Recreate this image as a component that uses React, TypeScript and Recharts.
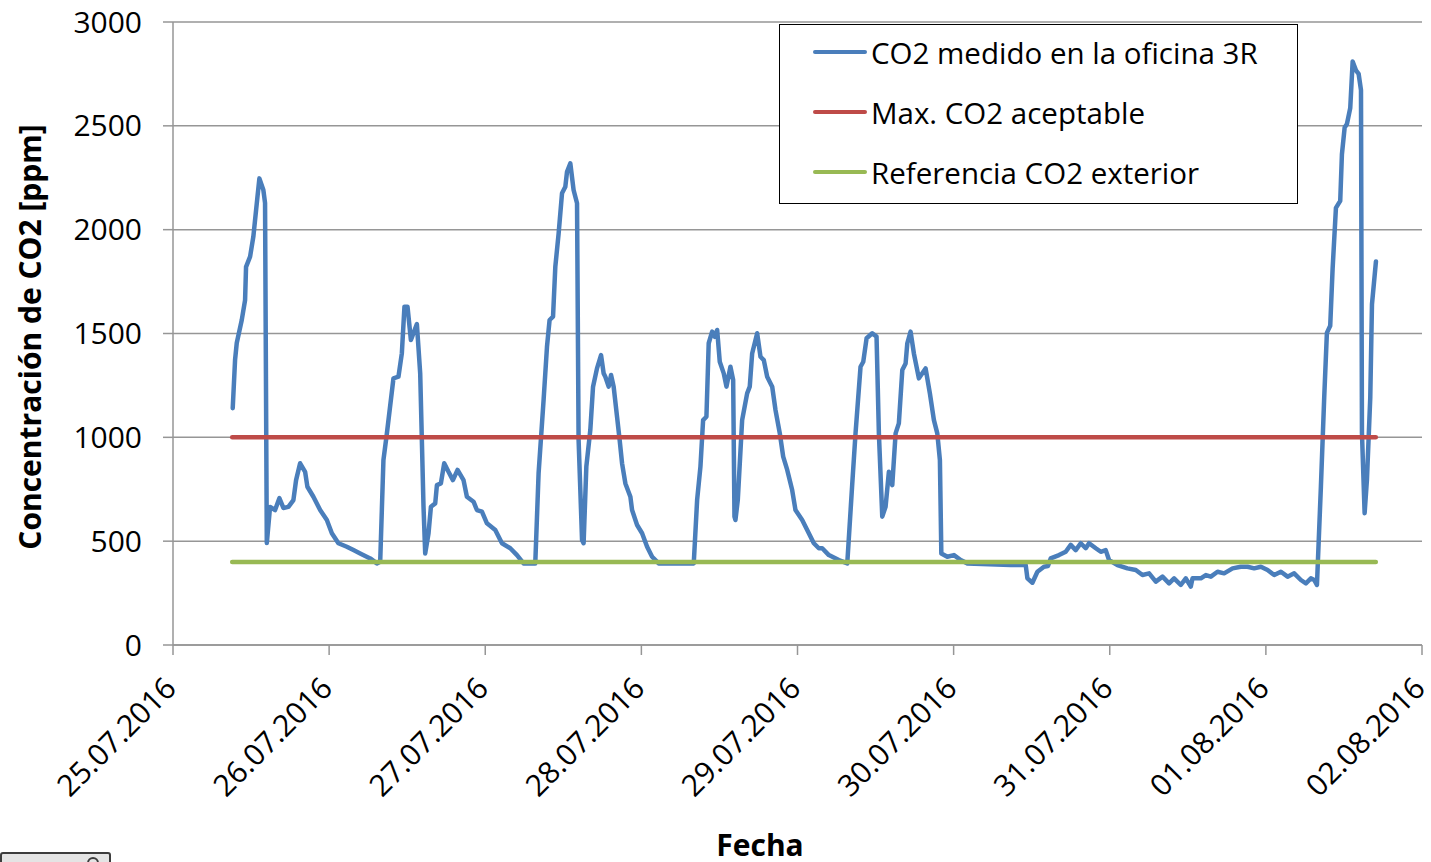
import React from 'react';
import { LineChart, Line, XAxis, YAxis, CartesianGrid, Legend, Label } from 'recharts';

const FONT = '"Open Sans", "Noto Sans", sans-serif';
const BLUE = '#4A7EBB';
const RED = '#BE4B48';
const GREEN = '#98B954';
const GRID = '#969696';

// x = hours since 25.07.2016 00:00
const dayTicks = [0, 24, 48, 72, 96, 120, 144, 168, 192];
const dateLabels = [
  '25.07.2016',
  '26.07.2016',
  '27.07.2016',
  '28.07.2016',
  '29.07.2016',
  '30.07.2016',
  '31.07.2016',
  '01.08.2016',
  '02.08.2016',
];
const ppmTicks = [0, 500, 1000, 1500, 2000, 2500, 3000];

// [hour, ppm]
const co2Readings: [number, number][] = [
  [9.18, 1140], [9.54, 1372], [9.8, 1454], [10.57, 1565], [11.08, 1661], [11.23, 1821],
  [11.85, 1870], [12.35, 1966], [12.77, 2094], [13.28, 2247], [13.89, 2191], [14.15, 2128],
  [14.42, 491], [14.92, 665], [15.69, 650], [16.35, 707], [16.97, 660], [17.74, 665],
  [18.51, 698], [18.92, 794], [19.54, 875], [20.31, 834], [20.66, 762], [21.58, 714],
  [22.62, 650], [23.65, 602], [24.42, 538], [25.43, 490], [26.72, 473], [27.74, 457],
  [28.77, 441], [30.31, 417], [31.34, 393], [31.85, 401],
  [32.35, 891], [32.88, 1019], [33.89, 1284], [34.66, 1292], [35.18, 1405], [35.58, 1629],
  [36.05, 1629], [36.57, 1469], [37.49, 1545], [38.0, 1308], [38.51, 666], [38.77, 441],
  [39.28, 538], [39.65, 666], [40.31, 682], [40.57, 770], [41.18, 778], [41.69, 875],
  [42.35, 834], [43.03, 794], [43.74, 843], [44.66, 794], [45.18, 714], [46.2, 690],
  [46.72, 650], [47.49, 642], [48.26, 586], [49.54, 554], [50.57, 490], [51.85, 466],
  [52.88, 433], [53.89, 393], [55.69, 393],
  [56.2, 827], [56.97, 1180], [57.49, 1436], [57.89, 1565], [58.42, 1581], [58.77, 1821],
  [59.28, 1982], [59.8, 2175], [60.31, 2207], [60.57, 2279], [61.08, 2319], [61.58, 2191],
  [62.11, 2127], [62.35, 987], [62.88, 506], [63.12, 490], [63.54, 859], [64.15, 1035],
  [64.57, 1244], [65.18, 1332], [65.8, 1396], [66.2, 1308], [66.46, 1292], [66.97, 1244],
  [67.34, 1300], [67.74, 1244], [68.26, 1099], [68.66, 987], [69.03, 875], [69.54, 778],
  [70.31, 714], [70.57, 650], [71.34, 578], [72.11, 538], [72.88, 473], [73.65, 425],
  [74.66, 393], [80.05, 393],
  [80.57, 698], [81.08, 859], [81.49, 1083], [82.0, 1099], [82.35, 1453], [82.88, 1509],
  [83.28, 1484], [83.65, 1517], [84.05, 1364], [84.66, 1308], [85.08, 1244], [85.69, 1340],
  [86.11, 1276], [86.31, 618], [86.46, 602], [86.82, 698], [87.49, 1083], [88.26, 1212],
  [88.66, 1244], [89.03, 1404], [89.8, 1501], [90.31, 1388], [90.82, 1372], [91.34, 1292],
  [92.11, 1244], [92.62, 1131], [93.28, 1019], [93.8, 907], [94.42, 843], [95.18, 746],
  [95.69, 650], [96.72, 602], [97.49, 554], [98.51, 490], [99.28, 466], [99.8, 466],
  [100.82, 433], [102.35, 409], [103.65, 393],
  [104.42, 778], [104.92, 1019], [105.69, 1340], [106.11, 1364], [106.62, 1477], [107.49, 1501],
  [108.15, 1485], [108.51, 1019], [109.03, 618], [109.54, 666], [110.05, 834], [110.57, 770],
  [111.08, 1019], [111.58, 1067], [112.11, 1324], [112.62, 1356], [112.88, 1453], [113.38, 1509],
  [113.89, 1404], [114.66, 1284], [115.69, 1332], [116.35, 1212], [116.97, 1083], [117.49, 1019],
  [117.89, 891], [118.11, 441], [119.03, 425], [120.05, 433], [121.08, 409], [122.11, 393],
  [128.77, 385], [131.08, 385], [131.34, 321], [132.11, 300], [132.88, 353], [133.89, 377],
  [134.5, 380], [134.92, 417], [136.2, 433], [137.23, 449], [138.0, 482], [138.77, 457],
  [139.54, 490], [140.31, 466], [140.82, 490], [141.85, 466], [142.62, 449], [143.38, 457],
  [143.89, 409], [145.18, 385], [146.72, 369], [148.0, 361], [149.03, 337], [150.05, 345],
  [151.08, 305], [152.11, 329], [153.12, 297], [153.89, 321], [154.92, 289], [155.69, 321],
  [156.46, 281], [156.72, 321], [158.0, 321], [158.77, 337], [159.54, 329], [160.57, 353],
  [161.58, 345], [162.88, 369], [164.15, 377], [165.18, 377], [166.2, 369], [167.23, 377],
  [168.26, 361], [169.28, 337], [170.31, 353], [171.34, 329], [172.35, 345], [173.38, 313],
  [174.15, 297], [174.92, 321], [175.43, 313], [175.85, 289],
  [176.46, 764], [176.97, 1194], [177.38, 1503], [177.89, 1537], [178.26, 1812], [178.77, 2105],
  [179.43, 2139], [179.69, 2363], [180.11, 2492], [180.46, 2509], [180.97, 2586], [181.34, 2810],
  [181.85, 2767], [182.26, 2750], [182.62, 2672], [182.77, 1021], [183.18, 635], [183.54, 798],
  [184.05, 1194], [184.31, 1641], [184.92, 1847],
];

const maxAcceptable = 1000;
const outdoorReference = 400;
const measuredSpan = [9.1, 184.9];

const measured = co2Readings.map(([t, v]) => ({ t, v }));
const maxLine = measuredSpan.map((t) => ({ t, v: maxAcceptable }));
const outdoorLine = measuredSpan.map((t) => ({ t, v: outdoorReference }));

const legendItems = [
  { name: 'CO2 medido en la oficina 3R', color: BLUE },
  { name: 'Max. CO2 aceptable', color: RED },
  { name: 'Referencia CO2 exterior', color: GREEN },
];

const DateTick = (props: any) => {
  const { x, y, payload } = props;
  const idx = dayTicks.indexOf(payload.value);
  return (
    <g transform={`translate(${x + 5},${y + 33})`}>
      <text textAnchor="end" transform="rotate(-45)" fontSize={30} fontFamily={FONT} fill="#000">
        {dateLabels[idx]}
      </text>
    </g>
  );
};

const renderLegend = () => (
  <div
    style={{
      width: 519,
      height: 180,
      boxSizing: 'border-box',
      border: '1.5px solid #000',
      background: '#fff',
      fontFamily: FONT,
      fontSize: 29.5,
      color: '#000',
      paddingTop: 0,
      overflow: 'hidden',
    }}
  >
    <div style={{ marginTop: -3 }}>
      {legendItems.map((item) => (
        <div key={item.name} style={{ display: 'flex', alignItems: 'center', height: 60, whiteSpace: 'nowrap' }}>
          <span
            style={{
              display: 'inline-block',
              width: 54,
              height: 4.5,
              borderRadius: 2,
              background: item.color,
              marginLeft: 33,
              marginRight: 4,
              flexShrink: 0,
            }}
          />
          <span>{item.name}</span>
        </div>
      ))}
    </div>
  </div>
);

const App: React.FC = () => {
  return (
    <div style={{ position: 'absolute', left: 0, top: 0, width: 1431, height: 862, background: '#fff' }}>
      <LineChart width={1431} height={862} margin={{ top: 22, right: 9, bottom: 5, left: 0 }}>
        <CartesianGrid vertical={false} stroke={GRID} strokeWidth={1.5} />
        <XAxis
          dataKey="t"
          type="number"
          domain={[0, 192]}
          ticks={dayTicks}
          interval={0}
          height={212}
          stroke={GRID}
          strokeWidth={1.5}
          tickSize={10}
          tick={<DateTick />}
        >
          <Label
            content={() => (
              <text x={760} y={856} textAnchor="middle" fontSize={30} fontWeight="bold" fontFamily={FONT} fill="#000">
                Fecha
              </text>
            )}
          />
        </XAxis>
        <YAxis
          type="number"
          domain={[0, 3000]}
          ticks={ppmTicks}
          width={173}
          stroke={GRID}
          strokeWidth={1.5}
          tickSize={10}
          tickMargin={21}
          tick={{ fontSize: 30, fill: '#000', fontFamily: FONT }}
        >
          <Label
            content={() => (
              <text
                transform="translate(41,337) rotate(-90)"
                textAnchor="middle"
                fontSize={30}
                fontWeight="bold"
                fontFamily={FONT}
                fill="#000"
              >
                Concentración de CO2 [ppm]
              </text>
            )}
          />
        </YAxis>
        <Legend
          layout="vertical"
          align="center"
          verticalAlign="middle"
          content={renderLegend}
          wrapperStyle={{ left: 779, top: 24, width: 519, height: 180 }}
        />
        <Line
          data={measured}
          dataKey="v"
          name="CO2 medido en la oficina 3R"
          stroke={BLUE}
          strokeWidth={4.5}
          strokeLinejoin="round"
          strokeLinecap="round"
          dot={false}
          activeDot={false}
          isAnimationActive={false}
        />
        <Line
          data={maxLine}
          dataKey="v"
          name="Max. CO2 aceptable"
          stroke={RED}
          strokeWidth={4.5}
          strokeLinecap="round"
          dot={false}
          activeDot={false}
          isAnimationActive={false}
        />
        <Line
          data={outdoorLine}
          dataKey="v"
          name="Referencia CO2 exterior"
          stroke={GREEN}
          strokeWidth={4.5}
          strokeLinecap="round"
          dot={false}
          activeDot={false}
          isAnimationActive={false}
        />
      </LineChart>
      <div
        style={{
          position: 'absolute',
          left: 0,
          top: 852,
          width: 111,
          height: 16,
          boxSizing: 'border-box',
          border: '2px solid #3c3c3c',
          borderRadius: 3,
          background: '#e4e4e4',
        }}
      >
        <div
          style={{
            position: 'absolute',
            left: 85,
            top: 3,
            width: 12,
            height: 12,
            boxSizing: 'border-box',
            border: '2px solid #3c3c3c',
            borderRadius: '50%',
          }}
        />
      </div>
    </div>
  );
};

export default App;
